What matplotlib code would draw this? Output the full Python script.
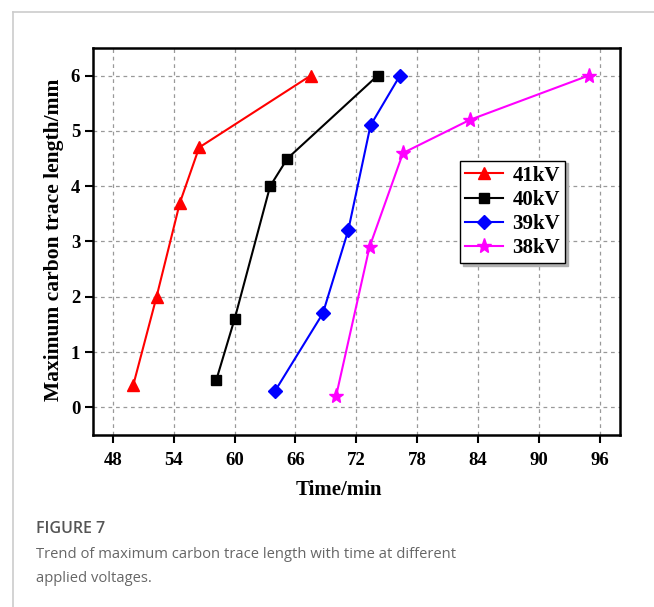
import matplotlib
matplotlib.use("Agg")
import matplotlib.pyplot as plt
from matplotlib.lines import Line2D

# carbon trace length vs time, one series per voltage
t_41kv = [50.0, 52.3, 54.6, 56.5, 67.5]
len_41kv = [0.4, 2.0, 3.7, 4.7, 6.0]

t_40kv = [58.2, 60.0, 63.5, 65.2, 74.1]
len_40kv = [0.5, 1.6, 4.0, 4.5, 6.0]

t_39kv = [64.0, 68.7, 71.2, 73.4, 76.3]
len_39kv = [0.3, 1.7, 3.2, 5.1, 6.0]

t_38kv = [70.0, 73.3, 76.6, 83.2, 94.9]
len_38kv = [0.2, 2.9, 4.6, 5.2, 6.0]

series_labels = ["41kV", "40kV", "39kV", "38kV"]
x_ticks = [48, 54, 60, 66, 72, 78, 84, 90, 96]
y_ticks = [0, 1, 2, 3, 4, 5, 6]

plt.rcParams['font.family'] = ['Liberation Serif', 'DejaVu Serif']
plt.rcParams['font.weight'] = 'bold'

fig = plt.figure(figsize=(6.54, 6.07), dpi=100)
ax = fig.add_axes([0.1417, 0.2834, 0.8063, 0.6376])

styles = [
    dict(color='red', marker='^', markersize=9),
    dict(color='black', marker='s', markersize=7),
    dict(color='blue', marker='D', markersize=7.5),
    dict(color='magenta', marker='*', markersize=11),
]
data = [(t_41kv, len_41kv), (t_40kv, len_40kv), (t_39kv, len_39kv), (t_38kv, len_38kv)]

for (xs, ys), st, lab in zip(data, styles, series_labels):
    ax.plot(xs, ys, linewidth=1.5, label=lab, zorder=3, **st)

ax.set_xlim(46, 98)
ax.set_ylim(-0.5, 6.5)
ax.set_xticks(x_ticks)
ax.set_yticks(y_ticks)
ax.grid(True, color='#999999', linestyle=(0, (3, 3)), linewidth=0.9)
ax.set_axisbelow(True)

for sp in ax.spines.values():
    sp.set_linewidth(1.8)
ax.tick_params(direction='out', length=6, width=1.5, labelsize=13.5)
ax.tick_params(axis='x', pad=6)
ax.tick_params(axis='y', pad=3)
for lbl in ax.get_xticklabels() + ax.get_yticklabels():
    lbl.set_fontweight('bold')

ax.set_xlabel("Time/min", fontsize=15, fontweight='bold')
ax.set_ylabel("Maximum carbon trace length/mm", fontsize=15.5, fontweight='bold')
ax.xaxis.set_label_coords(0.467, -0.116)
ax.yaxis.set_label_coords(-0.054, 0.505)

leg = ax.legend(loc='upper left', bbox_to_anchor=(0.697, 0.709),
                frameon=True, fancybox=False, edgecolor='black',
                shadow={'color': '#b0b0b0', 'alpha': 1},
                prop={'weight': 'bold', 'size': 15},
                handlelength=1.8, handletextpad=0.45, labelspacing=0.2,
                borderpad=0.25, borderaxespad=0)
leg.get_frame().set_linewidth(1.0)

# page frame lines and caption
fig.add_artist(Line2D([13 / 654, 1.0], [1 - 12 / 607, 1 - 12 / 607],
                      color='#cccccc', linewidth=1.2))
fig.add_artist(Line2D([13 / 654, 13 / 654], [0, 1 - 12 / 607],
                      color='#cccccc', linewidth=1.2))

fig.text(36 / 654, 1 - 529 / 607, "FIGURE 7", family=['Open Sans', 'DejaVu Sans'],
         fontsize=11.5, color='#555555', weight='semibold', va='center')
fig.text(36 / 654, 1 - 555 / 607,
         "Trend of maximum carbon trace length with time at different",
         family=['Open Sans', 'DejaVu Sans'], fontsize=10.6, color='#666666',
         weight='normal', va='center')
fig.text(36 / 654, 1 - 579 / 607, "applied voltages.",
         family=['Open Sans', 'DejaVu Sans'], fontsize=10.6, color='#666666',
         weight='normal', va='center')

fig.savefig("out.png", dpi=100)
